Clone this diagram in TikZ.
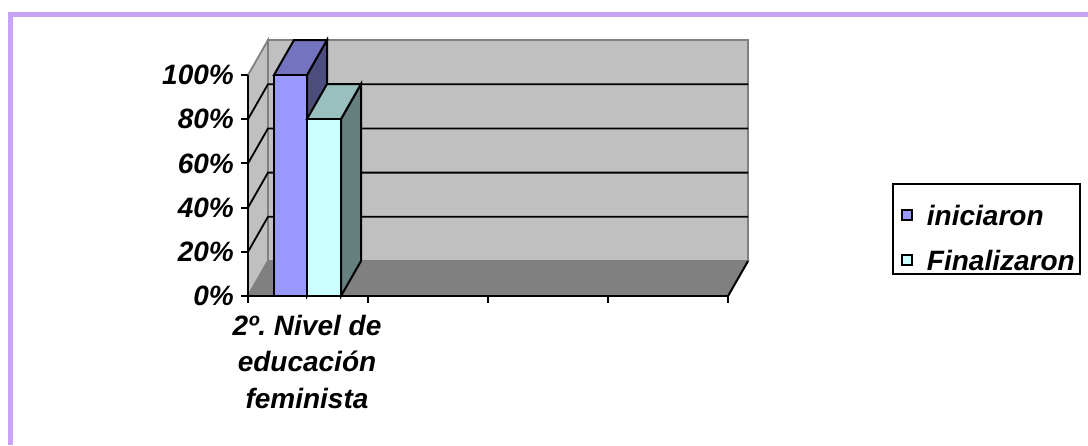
\documentclass[tikz,border=0pt]{standalone}
\usepackage{fontspec}
\setmainfont{Liberation Sans}
\usetikzlibrary{positioning}
\definecolor{wallgray}{HTML}{C0C0C0}
\definecolor{floorgray}{HTML}{808080}
\definecolor{edgegray}{HTML}{808080}
\definecolor{frameline}{HTML}{C9A3F5}
\definecolor{iniFront}{HTML}{9999FF}
\definecolor{iniTop}{HTML}{7373BF}
\definecolor{iniSide}{HTML}{4D4D80}
\definecolor{finFront}{HTML}{CCFFFF}
\definecolor{finTop}{HTML}{99BFBF}
\definecolor{finSide}{HTML}{668080}
\frenchspacing

\begin{document}
\begin{tikzpicture}[x=1pt,y=-1pt,line join=miter]
	% `wall' is used for the grey back wall, side wall and floor.
	% `barface' is used for every face of the two columns.
	\tikzstyle{wall} = [fill=wallgray,draw=edgegray,line width=1.8pt]
	\tikzstyle{grid} = [draw=black,line width=1.8pt]
	\tikzstyle{axis} = [draw=black,line width=2pt]
	\tikzstyle{barface} = [draw=black,line width=2pt]
	\tikzstyle{txt} = [font=\fontsize{28}{36.5}\selectfont\bfseries\itshape,inner sep=0pt]
	\tikzstyle{keybox} = [draw=black,line width=1.5pt,minimum size=10pt,inner sep=0pt]
	%
	\useasboundingbox (0,0) rectangle (1088,445);
	% Patterned page frame (top and left only).
	\draw[frameline,line width=5pt] (1088,14.5) -- (10.5,14.5) -- (10.5,445);
	%
	% Walls and floor.
	\draw[wall] (268,40) rectangle (748,261);
	\draw[wall] (248,296) -- (248,75) -- (268,40) -- (268,261) -- cycle;
	\draw[wall,fill=floorgray] (248,296) -- (728,296) -- (748,261) -- (268,261) -- cycle;
	\draw[axis] (728,296) -- (748,261);
	% Gridlines.
	\foreach \k in {1,...,4}
		\draw[grid] (248,296-44.2*\k) -- (268,261-44.2*\k) -- (748,261-44.2*\k);
	%
	% Columns: iniciaron (100%) and Finalizaron (80%).
	\draw[barface,fill=iniSide] (307,296) -- (307,75) -- (327,40) -- (327,261) -- cycle;
	\draw[barface,fill=iniTop] (274,75) -- (307,75) -- (327,40) -- (294,40) -- cycle;
	\draw[barface,fill=iniFront] (274,296) rectangle (307,75);
	\draw[barface,fill=finSide] (341,296) -- (341,119) -- (361,84) -- (361,261) -- cycle;
	\draw[barface,fill=finTop] (307,119) -- (341,119) -- (361,84) -- (327,84) -- cycle;
	\draw[barface,fill=finFront] (307,296) rectangle (341,119);
	%
	% Axes and ticks.
	\draw[axis] (248,75) -- (248,296) -- (728,296);
	\foreach \k in {0,...,5}
		\draw[axis] (241,296-44.2*\k) -- (248,296-44.2*\k);
	\foreach \x in {248,368,488,608,728}
		\draw[axis] (\x,296) -- (\x,303);
	%
	% Labels.
	\foreach \k [evaluate=\k as \pc using int(20*\k)] in {0,...,5}
		\node[txt,anchor=east] (ylab\k) at (234,296-44.2*\k) {\pc\%};
	\node[txt,anchor=north,align=center] (catlab) at (307,315)
		{2º. Nivel de\\educación\\feminista};
	%
	% Legend.
	\node[draw=black,line width=1.5pt,minimum width=187pt,minimum height=90pt,inner sep=0pt] (legend) at (986.5,229) {};
	\node[keybox,fill=iniFront] (keyini) at (907,215) {};
	\node[keybox,fill=finFront] (keyfin) at (907,260) {};
	\node[txt,anchor=west,right=14pt of keyini] (legini) {iniciaron};
	\node[txt,anchor=west,right=14pt of keyfin] (legfin) {Finalizaron};
\end{tikzpicture}
\end{document}
